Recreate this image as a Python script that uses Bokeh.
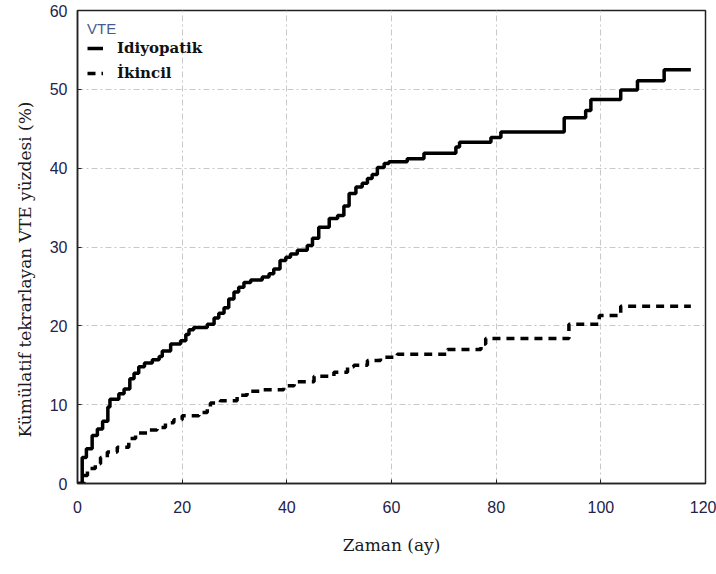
from bokeh.plotting import figure
from bokeh.models import Range1d, FixedTicker, Legend, LegendItem, Title
from bokeh.embed import file_html
from bokeh.resources import INLINE

# ---- data ----
idio_t = [0, 0.9, 1.7, 2.8, 3.8, 4.8, 5.8, 6.2, 7.9, 8.9, 10.0, 10.8, 11.7, 12.8, 14.3, 15.6,
          16.2, 17.8, 19.7, 20.7, 21.3, 22.2, 24.8, 26.1, 27.0, 28.0, 28.9, 29.9, 30.8, 31.8,
          33.1, 35.3, 36.6, 37.5, 38.7, 39.8, 40.7, 42.0, 43.9, 44.9, 46.1, 48.1, 49.7, 50.9,
          51.9, 53.2, 54.4, 55.4, 56.3, 57.3, 58.6, 59.5, 63.0, 66.2, 72.3, 73.0, 79.0, 80.9,
          93.0, 97.1, 98.1, 103.8, 107.0, 112.1, 117.2]
idio_y = [0, 3.3, 4.4, 6.1, 6.9, 7.9, 9.7, 10.7, 11.4, 12.0, 13.3, 14.0, 14.8, 15.3, 15.7, 16.1,
          16.8, 17.7, 18.1, 18.9, 19.5, 19.8, 20.2, 21.0, 21.6, 22.3, 23.4, 24.3, 24.9, 25.5,
          25.8, 26.2, 26.6, 27.2, 28.3, 28.7, 29.1, 29.6, 30.2, 31.1, 32.5, 33.6, 34.0, 35.2,
          36.8, 37.6, 38.1, 38.7, 39.2, 40.1, 40.6, 40.8, 41.2, 41.9, 42.7, 43.3, 43.9, 44.6,
          46.4, 47.3, 48.7, 49.9, 51.1, 52.5, 52.5]

sec_t = [0, 1.2, 1.9, 3.4, 4.4, 5.7, 7.6, 9.8, 11.1, 13.3, 15.2, 16.8, 18.4, 20.0, 23.2, 24.8,
         25.4, 27.3, 30.5, 32.4, 35.5, 39.4, 41.4, 45.2, 49.0, 51.6, 52.8, 55.4, 57.9, 61.1,
         70.7, 77.1, 78.0, 93.9, 99.7, 103.8, 117.2]
sec_y = [0, 1.0, 1.9, 2.5, 3.3, 4.0, 4.6, 5.7, 6.4, 6.8, 7.1, 7.7, 8.1, 8.6, 9.0, 9.7,
         10.2, 10.5, 11.2, 11.7, 11.9, 12.4, 12.9, 13.6, 14.1, 14.8, 15.0, 15.6, 16.0, 16.4,
         17.0, 17.7, 18.4, 20.2, 21.3, 22.5, 22.5]

x_ticks = [0, 20, 40, 60, 80, 100, 120]
y_ticks = [0, 10, 20, 30, 40, 50, 60]

series_names = ["Idiyopatik", "İkincil"]
legend_title = "VTE"
x_title = "Zaman (ay)"
y_title = "Kümülatif tekrarlayan VTE yüzdesi (%)"

SERIF = "DejaVu Serif"
SANS = "Liberation Sans"
TICK_COLOR = "#23234a"

p = figure(width=716, height=574, output_backend="svg", toolbar_location=None,
           x_range=Range1d(0, 120), y_range=Range1d(0, 60),
           min_border_left=77, min_border_right=11, min_border_top=10, min_border_bottom=91)
p.background_fill_color = "white"
p.border_fill_color = "white"
p.outline_line_color = "#222222"
p.outline_line_width = 1.5

for g in (p.xgrid[0], p.ygrid[0]):
    g.grid_line_color = "#c8c8c8"
    g.grid_line_dash = "6 3 2 3"
    g.grid_line_width = 1

p.xaxis.ticker = FixedTicker(ticks=x_ticks)
p.yaxis.ticker = FixedTicker(ticks=y_ticks)
p.xgrid.ticker = FixedTicker(ticks=x_ticks)
p.ygrid.ticker = FixedTicker(ticks=y_ticks)

for ax in (p.xaxis[0], p.yaxis[0]):
    ax.axis_line_color = "#222222"
    ax.axis_line_width = 1.5
    ax.major_tick_in = 4
    ax.major_tick_out = 0
    ax.minor_tick_line_color = None
    ax.major_tick_line_color = "#222222"
    ax.major_label_text_font = SANS
    ax.major_label_text_font_size = "16px"
    ax.major_label_text_color = TICK_COLOR
    ax.axis_label_text_font = SERIF
    ax.axis_label_text_font_style = "normal"
    ax.axis_label_text_font_size = "17px"
    ax.axis_label_text_color = "#1a1a1a"

p.xaxis.axis_label = x_title
p.xaxis.major_label_standoff = 17
p.xaxis.axis_label_standoff = 19
p.yaxis.major_label_standoff = 10

ytitle = Title(text=y_title, align="left", offset=46, text_font=SERIF,
               text_font_size="17px", text_font_style="normal", text_color="#1a1a1a",
               standoff=23)
p.add_layout(ytitle, "left")

r1 = p.step(idio_t, idio_y, mode="after", line_color="black", line_width=3.5)
r2 = p.step(sec_t, sec_y, mode="after", line_color="black", line_width=3.5, line_dash="8 6")

legend = Legend(items=[LegendItem(label=series_names[0], renderers=[r1]),
                       LegendItem(label=series_names[1], renderers=[r2])],
                location="top_left", title=legend_title)
legend.border_line_color = None
legend.background_fill_alpha = 0
legend.margin = 10
legend.padding = 0
legend.title_text_font = SANS
legend.title_text_font_size = "15px"
legend.title_text_color = "#4a5a8c"
legend.title_text_font_style = "normal"
legend.title_standoff = -6
legend.label_text_font = SERIF
legend.label_text_font_size = "15px"
legend.label_text_font_style = "bold"
legend.label_text_color = "#111111"
legend.glyph_width = 16
legend.glyph_height = 22
legend.label_height = 22
legend.label_standoff = 14
legend.spacing = 3
p.add_layout(legend)

open("out.html", "w").write(file_html(p, INLINE))
